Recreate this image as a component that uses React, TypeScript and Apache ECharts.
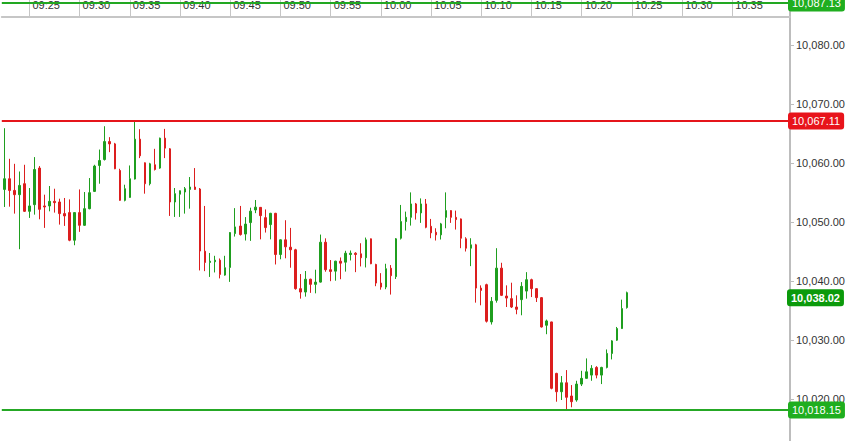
import React, { useEffect, useRef } from 'react';
import * as echarts from 'echarts';

// 30-second candles starting 09:22:30
const opens = [
  10055.52, 10057.33, 10055.35, 10054.63, 10056.49, 10051.81, 10052.94, 10059.14, 10052.72, 10052.72,
  10053.50, 10053.39, 10051.42, 10051.59, 10046.91, 10051.59, 10049.44, 10052.26, 10055.19, 10059.58,
  10060.59, 10063.63, 10063.24, 10058.73, 10053.67, 10054.17, 10057.28, 10064.04, 10060.03, 10056.49,
  10059.70, 10059.14, 10064.21, 10062.40, 10053.39, 10054.71, 10055.08, 10055.52, 10055.93, 10055.59,
  10045.05, 10043.14, 10043.26, 10043.53, 10041.00, 10042.30, 10048.04, 10049.31, 10047.96, 10049.90,
  10052.04, 10052.48, 10050.74, 10049.56, 10051.47, 10044.49, 10046.98, 10045.73, 10045.29, 10038.70,
  10038.13, 10040.30, 10039.43, 10039.81, 10046.57, 10041.91, 10041.67, 10043.36, 10043.19, 10044.49,
  10044.71, 10044.61, 10043.94, 10047.15, 10042.80, 10039.65, 10038.97, 10042.16, 10040.74, 10047.25,
  10050.07, 10050.79, 10053.06, 10051.54, 10053.06, 10049.27, 10048.26, 10047.82, 10050.79, 10051.93,
  10050.79, 10050.52, 10047.15, 10045.56, 10046.13, 10038.80, 10039.38, 10033.06, 10036.72, 10042.18,
  10037.45, 10037.01, 10035.59, 10036.84, 10038.29, 10040.22, 10038.70, 10037.18, 10032.50, 10033.06,
  10024.34, 10021.23, 10022.75, 10020.51, 10019.83, 10022.53, 10023.50, 10024.05, 10025.35, 10024.05,
  10025.35, 10027.72, 10029.97, 10031.94, 10035.49,
];
const closes = [
  10057.33, 10055.35, 10054.63, 10056.20, 10051.81, 10052.72, 10058.90, 10052.15, 10052.55, 10053.50,
  10053.28, 10051.42, 10051.03, 10046.91, 10051.59, 10049.44, 10052.26, 10054.97, 10059.48, 10060.42,
  10063.63, 10063.24, 10059.02, 10053.67, 10055.64, 10057.33, 10064.04, 10061.22, 10056.49, 10059.86,
  10058.90, 10064.21, 10062.52, 10053.39, 10054.80, 10055.30, 10055.64, 10055.93, 10055.52, 10045.08,
  10043.14, 10043.36, 10043.53, 10041.11, 10042.25, 10048.21, 10049.17, 10047.87, 10049.65, 10051.84,
  10052.52, 10051.08, 10049.05, 10051.47, 10044.49, 10046.98, 10045.79, 10045.29, 10038.70, 10038.13,
  10040.30, 10039.43, 10039.81, 10046.57, 10041.91, 10041.62, 10043.36, 10043.02, 10044.71, 10044.71,
  10044.49, 10043.94, 10046.98, 10042.92, 10039.65, 10038.97, 10042.08, 10040.90, 10047.15, 10050.07,
  10050.79, 10053.06, 10051.54, 10053.06, 10049.10, 10048.16, 10047.82, 10049.68, 10051.93, 10050.79,
  10050.41, 10047.25, 10045.56, 10046.13, 10038.80, 10038.41, 10033.18, 10036.55, 10042.18, 10037.57,
  10037.11, 10035.59, 10035.20, 10039.09, 10040.22, 10038.70, 10037.18, 10032.21, 10033.23, 10021.81,
  10021.23, 10022.75, 10020.29, 10019.54, 10022.53, 10023.50, 10024.61, 10025.19, 10024.05, 10025.35,
  10027.72, 10029.85, 10031.94, 10035.32, 10038.02,
];
const lows = [
  10052.55, 10052.60, 10051.42, 10045.39, 10051.70, 10050.69, 10051.25, 10050.46, 10049.00, 10051.81,
  10051.59, 10049.56, 10049.34, 10046.74, 10046.06, 10048.33, 10049.34, 10052.15, 10055.08, 10056.49,
  10060.42, 10061.84, 10058.95, 10053.60, 10053.50, 10054.10, 10057.20, 10060.83, 10054.80, 10056.20,
  10058.73, 10059.02, 10060.83, 10051.03, 10050.86, 10050.86, 10051.42, 10052.26, 10055.45, 10041.79,
  10041.67, 10040.69, 10041.45, 10040.44, 10040.90, 10039.85, 10047.53, 10047.70, 10046.86, 10046.80,
  10051.50, 10047.06, 10048.21, 10047.06, 10042.80, 10043.68, 10043.85, 10042.25, 10038.53, 10037.01,
  10037.35, 10037.99, 10037.91, 10039.73, 10041.57, 10039.97, 10040.05, 10040.30, 10041.59, 10043.48,
  10041.50, 10042.47, 10042.30, 10042.85, 10039.12, 10038.53, 10038.61, 10037.70, 10040.34, 10047.03,
  10048.55, 10049.39, 10050.41, 10049.85, 10048.94, 10047.25, 10046.86, 10047.03, 10048.94, 10049.85,
  10048.72, 10045.56, 10045.00, 10042.52, 10036.33, 10035.88, 10032.96, 10032.62, 10036.33, 10037.45,
  10035.59, 10035.42, 10034.36, 10034.19, 10037.01, 10037.28, 10036.44, 10032.11, 10030.98, 10021.64,
  10019.54, 10019.83, 10018.15, 10018.60, 10019.54, 10022.20, 10023.45, 10023.09, 10023.50, 10022.53,
  10025.19, 10026.71, 10029.85, 10031.90, 10035.32,
];
const highs = [
  10065.90, 10060.71, 10059.86, 10058.56, 10059.70, 10055.76, 10061.00, 10059.48, 10054.63, 10056.10,
  10055.64, 10053.95, 10054.07, 10053.83, 10051.65, 10055.52, 10055.08, 10057.45, 10059.70, 10062.28,
  10066.23, 10064.38, 10063.41, 10059.02, 10056.32, 10059.58, 10067.11, 10065.73, 10060.10, 10060.03,
  10062.40, 10064.30, 10065.78, 10062.52, 10055.76, 10055.35, 10055.93, 10057.62, 10059.14, 10055.76,
  10052.72, 10044.75, 10044.27, 10043.82, 10044.27, 10048.29, 10052.35, 10052.72, 10050.83, 10052.43,
  10053.73, 10052.52, 10052.13, 10051.55, 10051.55, 10047.06, 10050.30, 10049.00, 10045.46, 10041.18,
  10041.69, 10040.39, 10041.91, 10047.87, 10047.23, 10043.55, 10043.43, 10043.99, 10045.12, 10045.17,
  10044.88, 10046.40, 10047.36, 10047.20, 10042.92, 10041.33, 10042.92, 10042.70, 10047.28, 10052.89,
  10051.76, 10055.02, 10053.23, 10054.00, 10053.90, 10050.52, 10048.94, 10049.85, 10055.02, 10052.00,
  10051.93, 10050.60, 10047.42, 10047.25, 10046.30, 10039.26, 10039.54, 10037.28, 10045.56, 10043.09,
  10039.26, 10039.71, 10037.57, 10039.81, 10041.50, 10040.39, 10038.75, 10037.28, 10033.46, 10033.10,
  10024.44, 10023.89, 10024.90, 10022.36, 10023.09, 10024.78, 10026.88, 10025.74, 10025.57, 10025.46,
  10028.40, 10029.97, 10032.21, 10036.84, 10038.20,
];

const tickLabels = ['09:25', '09:30', '09:35', '09:40', '09:45', '09:50', '09:55', '10:00', '10:05', '10:10', '10:15', '10:20', '10:25', '10:30', '10:35'];
const firstCandleTime = '09:22:30';
const candleSeconds = 30;
const slotCount = 157;

const topLevel = 10087.13;
const resistanceLevel = 10067.11;
const supportLevel = 10018.15;
const lastPrice = 10038.02;

const yMin = 10010;
const yMax = 10090;
const yStep = 10;

const FONT = 'Arial, "Liberation Sans", Helvetica, sans-serif';

function pad(n: number) {
  return n < 10 ? '0' + n : '' + n;
}

function buildCategories(): string[] {
  const [h, m, s] = firstCandleTime.split(':').map(Number);
  const start = h * 3600 + m * 60 + s;
  const out: string[] = [];
  for (let i = 0; i < slotCount; i++) {
    const t = start + i * candleSeconds;
    out.push(pad(Math.floor(t / 3600)) + ':' + pad(Math.floor((t % 3600) / 60)) + ':' + pad(t % 60));
  }
  return out;
}

function fmt(v: number) {
  return v.toLocaleString('en-US', { minimumFractionDigits: 2, maximumFractionDigits: 2 });
}

function boxLabel(bg: string) {
  return {
    show: true,
    position: 'end',
    distance: -2,
    formatter: (p: any) => fmt(p.value),
    color: '#ffffff',
    backgroundColor: bg,
    borderRadius: 3,
    padding: [3, 4, 3, 4],
    fontSize: 11,
    fontFamily: FONT,
  };
}

export default function App() {
  const ref = useRef<HTMLDivElement>(null);

  useEffect(() => {
    if (!ref.current) return;
    const chart = echarts.init(ref.current, undefined, { renderer: 'svg' });
    const categories = buildCategories();
    const candleData = opens.map((o, i) => [o, closes[i], lows[i], highs[i]]);
    const showTick = (_idx: number, value: string) =>
      value.endsWith(':00') && tickLabels.indexOf(value.slice(0, 5)) >= 0;

    chart.setOption({
      animation: false,
      backgroundColor: '#ffffff',
      grid: {
        left: 1.8,
        right: 56,
        top: -14,
        bottom: -17,
        containLabel: false,
        outerBoundsMode: 'none',
      },
      xAxis: {
        type: 'category',
        data: categories,
        position: 'top',
        offset: -30.5,
        boundaryGap: true,
        axisLine: { show: true, lineStyle: { color: '#c6c6c6', width: 2 } },
        axisTick: {
          show: true,
          alignWithLabel: true,
          interval: showTick,
          length: 17,
          lineStyle: { color: '#c6c6c6', width: 1 },
        },
        axisLabel: {
          show: true,
          interval: showTick,
          formatter: (v: string) => v.slice(0, 5),
          align: 'left',
          padding: [0, 0, 0, 3],
          margin: 6,
          color: '#333333',
          fontSize: 11,
          fontFamily: FONT,
        },
        splitLine: { show: false },
      },
      yAxis: {
        type: 'value',
        position: 'right',
        min: yMin,
        max: yMax,
        interval: yStep,
        axisLine: { show: true, lineStyle: { color: '#bdbdbd', width: 2 } },
        axisTick: { show: true, length: 4, lineStyle: { color: '#bdbdbd' } },
        axisLabel: {
          margin: 6,
          showMinLabel: false,
          showMaxLabel: false,
          formatter: (v: number) => fmt(v),
          color: '#333333',
          fontSize: 11,
          fontFamily: FONT,
        },
        splitLine: { show: false },
      },
      series: [
        {
          type: 'candlestick',
          data: candleData,
          barWidth: 2,
          silent: true,
          itemStyle: {
            color: '#1f9e1f',
            color0: '#dc1e1e',
            borderColor: '#1f9e1f',
            borderColor0: '#dc1e1e',
            borderWidth: 1,
          },
          markLine: {
            symbol: ['none', 'none'],
            silent: true,
            data: [
              {
                yAxis: topLevel,
                lineStyle: { color: '#22a822', width: 2, type: 'solid' },
                label: boxLabel('#1fae1f'),
              },
              {
                yAxis: resistanceLevel,
                lineStyle: { color: '#e5151b', width: 2, type: 'solid' },
                label: boxLabel('#e8141b'),
              },
              {
                yAxis: supportLevel,
                lineStyle: { color: '#25a825', width: 2, type: 'solid' },
                label: boxLabel('#1fae1f'),
              },
              {
                yAxis: lastPrice,
                lineStyle: { color: 'rgba(255,255,255,0)', width: 0, type: 'solid' },
                label: {
                  show: true,
                  opacity: 1,
                  position: 'end',
                  distance: -3,
                  formatter: '{s| }\n{b|' + fmt(lastPrice) + '}',
                  rich: {
                    s: { fontSize: 1, height: 10, lineHeight: 10 },
                    b: {
                      color: '#ffffff',
                      backgroundColor: '#0b9a0b',
                      borderRadius: 3,
                      padding: [3, 4, 3, 4],
                      fontSize: 11,
                      fontWeight: 'bold',
                      fontFamily: FONT,
                    },
                  },
                },
              },
            ],
          },
        },
      ],
    });
    return () => chart.dispose();
  }, []);

  return (
    <div
      ref={ref}
      style={{ position: 'fixed', left: 0, top: 0, width: 846, height: 441, background: '#fff' }}
    />
  );
}
